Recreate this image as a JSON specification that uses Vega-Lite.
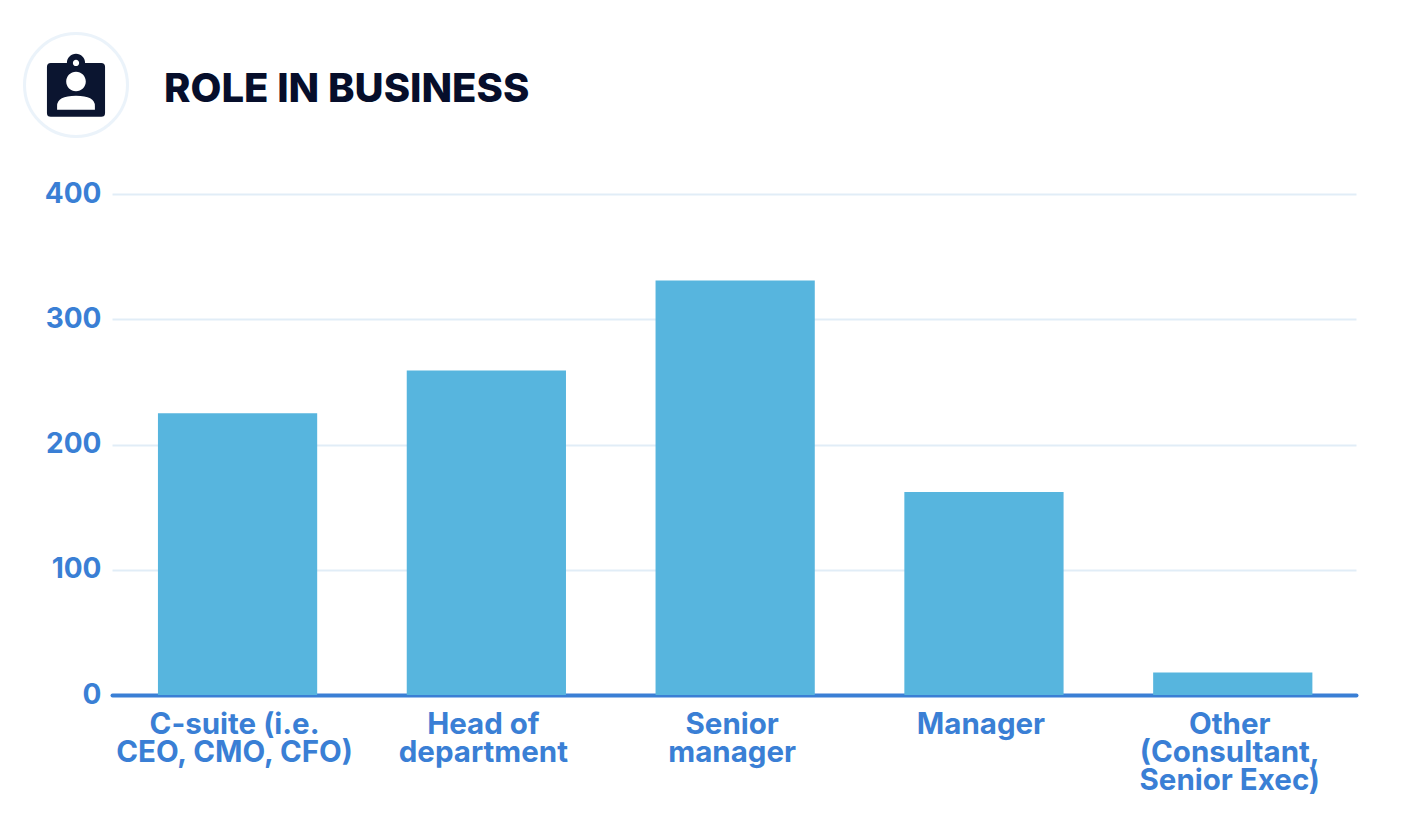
{
"$schema":"https://vega.github.io/schema/vega-lite/v6.json",
"autosize":{"type":"none"},
"width":1244,"height":501,
"padding":{"left":112,"top":194,"right":48,"bottom":145},
"background":"white",
"config":{"view":{"stroke":null},"font":"Inter"},
"title":{"text":"ROLE IN BUSINESS","anchor":"start","frame":"group","dx":52,"offset":-82,"font":"Inter","fontSize":40,"fontWeight":800,"color":"#060E2B"},
"resolve":{"scale":{"x":"independent","y":"independent"}},
"layer":[
{"data":{"values":[
{"role":"C-suite (i.e. CEO, CMO, CFO)","count":225},
{"role":"Head of department","count":259},
{"role":"Senior manager","count":331},
{"role":"Manager","count":162},
{"role":"Other (Consultant, Senior Exec)","count":18}
]},
"mark":{"type":"bar","color":"#57B5DE"},
"encoding":{
"x":{"field":"role","type":"nominal","sort":null,"scale":{"paddingInner":0.36,"paddingOuter":0.18,"align":0.513},
"axis":{"title":null,"labelAngle":0,"labelLimit":0,"labelOffset":-3,"labelExpr":"split(replace(replace(replace(replace(datum.value,'(i.e. ','(i.e.|'),'Head of ','Head of|'),'Senior manager','Senior|manager'),'Other (Consultant, Senior','Other|(Consultant,|Senior'),'|')","labelFont":"Inter","labelFontSize":29.5,"labelFontWeight":"bold","labelColor":"#3A7FD5","labelLineHeight":28,"labelPadding":15,"ticks":false,"domainColor":"#3A7FD5","domainWidth":4,"domainCap":"round"}},
"y":{"field":"count","type":"quantitative","scale":{"domain":[0,400]},
"axis":{"title":null,"values":[0,100,200,300,400],"labelFont":"Inter","labelFontSize":28,"labelFontWeight":"bold","labelColor":"#3A7FD5","labelPadding":11,"ticks":false,"domain":false,"gridColor":"#E1EDF7","gridWidth":2}}
}},
{"data":{"values":[{"part":"ring"}]},
"mark":{"type":"point","shape":"circle","filled":false,"stroke":"#E3EEF9","strokeWidth":3,"size":10609},
"encoding":{
"x":{"datum":-36,"type":"quantitative","scale":{"domain":[0,1244],"range":[0,1244]},"axis":null},
"y":{"datum":109,"type":"quantitative","scale":{"domain":[0,501],"range":[0,-501]},"axis":null}}},
{"data":{"values":[{"part":"badge"}]},
"mark":{"type":"point","filled":true,"opacity":1,"fill":"#0B1530","strokeWidth":0,"size":4900,"shape":"M-0.72,-0.63 L-0.26,-0.63 A0.26,0.26 0 0 1 0.26,-0.63 L0.72,-0.63 Q0.83,-0.63 0.83,-0.52 L0.83,0.8 Q0.83,0.91 0.72,0.91 L-0.72,0.91 Q-0.83,0.91 -0.83,0.8 L-0.83,-0.52 Q-0.83,-0.63 -0.72,-0.63 Z"},
"encoding":{
"x":{"datum":-36,"type":"quantitative","scale":{"domain":[0,1244],"range":[0,1244]},"axis":null},
"y":{"datum":109,"type":"quantitative","scale":{"domain":[0,501],"range":[0,-501]},"axis":null}}},
{"data":{"values":[{"part":"person"}]},
"mark":{"type":"point","filled":true,"opacity":1,"fill":"#FFFFFF","strokeWidth":0,"size":4900,"shape":"M-0.09,-0.63 A0.09,0.09 0 1 1 0.09,-0.63 A0.09,0.09 0 1 1 -0.09,-0.63 Z M-0.28,-0.1 A0.28,0.28 0 1 1 0.28,-0.1 A0.28,0.28 0 1 1 -0.28,-0.1 Z M-0.54,0.71 L-0.54,0.6 Q-0.54,0.31 0,0.31 Q0.54,0.31 0.54,0.6 L0.54,0.71 Z"},
"encoding":{
"x":{"datum":-36,"type":"quantitative","scale":{"domain":[0,1244],"range":[0,1244]},"axis":null},
"y":{"datum":109,"type":"quantitative","scale":{"domain":[0,501],"range":[0,-501]},"axis":null}}}
]
}
